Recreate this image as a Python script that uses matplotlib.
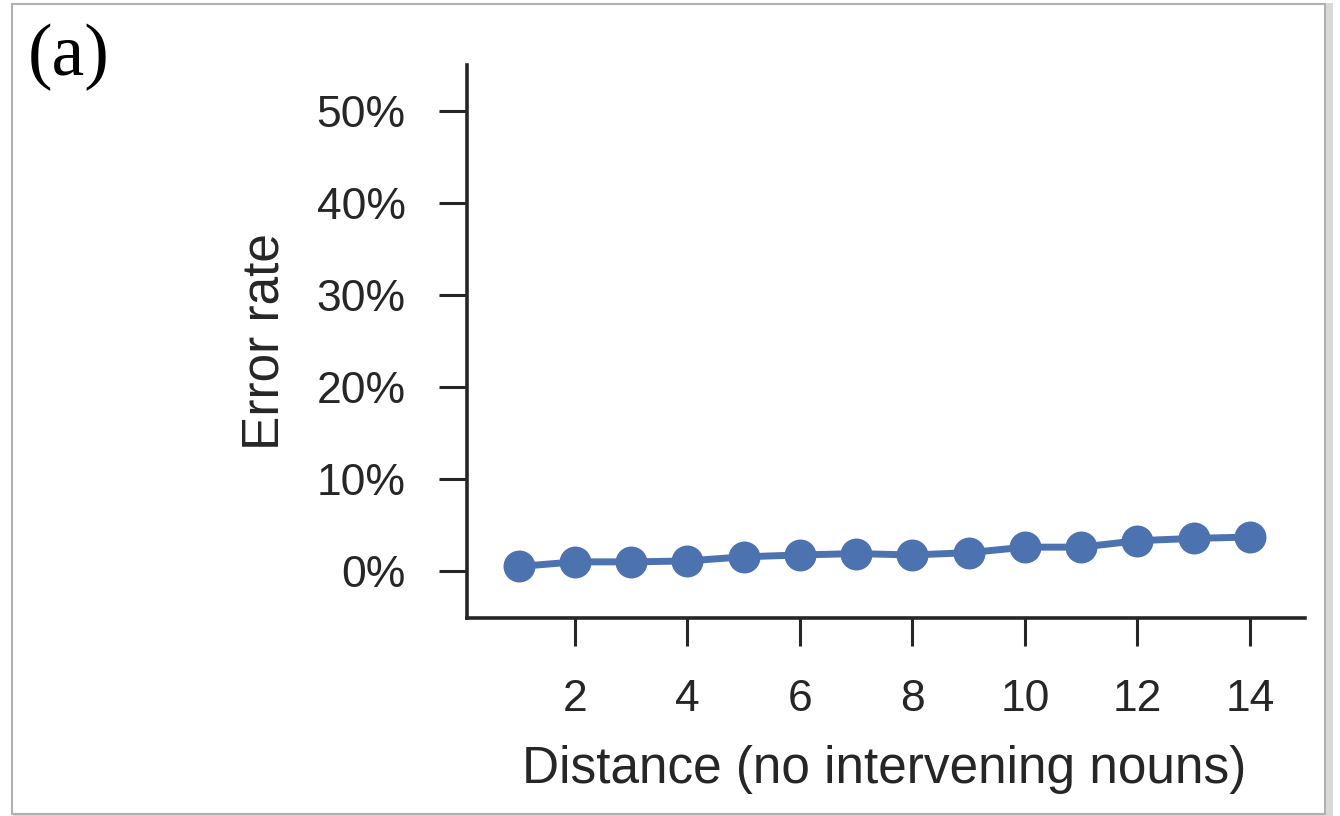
import numpy as np
import matplotlib.pyplot as plt
from matplotlib.patches import Rectangle

# values
distance = [1, 2, 3, 4, 5, 6, 7, 8, 9, 10, 11, 12, 13, 14]
error_rate = [0.5, 1.0, 1.0, 1.1, 1.55, 1.75, 1.9, 1.75, 2.0, 2.6, 2.6, 3.3, 3.55, 3.7]
x_ticks = [2, 4, 6, 8, 10, 12, 14]
y_ticks = [0, 10, 20, 30, 40, 50]

plt.rcParams['font.family'] = ['Liberation Sans', 'DejaVu Sans']
txt = '#262626'

fig = plt.figure(figsize=(13.4, 8.16), dpi=100)

# framed panel with a light shadow
fig.patches.append(Rectangle((16 / 1340, 0.0), 1313 / 1340, 810 / 816, transform=fig.transFigure,
                             facecolor='none', edgecolor='#d9d9d9', linewidth=5, zorder=-2))
fig.patches.append(Rectangle((12 / 1340, 2 / 816), 1313 / 1340, 810 / 816, transform=fig.transFigure,
                             facecolor='white', edgecolor='#b0b0b0', linewidth=1.5, zorder=-1))

ax = fig.add_axes([467 / 1340, 1 - 618 / 816, 838 / 1340, 553 / 816])
ax.set_facecolor('none')
ax.set_zorder(2)

ax.plot(distance, error_rate, color='#4c72b0', linewidth=5,
        marker='o', markersize=23, markeredgewidth=0, zorder=3)

ax.set_xlim(0.08, 14.98)
ax.set_ylim(-5.1, 55)
ax.set_xticks(x_ticks)
ax.set_yticks(y_ticks)
ax.set_yticklabels([f'{v}%' for v in y_ticks])

for s in ['top', 'right']:
    ax.spines[s].set_visible(False)
for s in ['left', 'bottom']:
    ax.spines[s].set_linewidth(2.6)
    ax.spines[s].set_color(txt)

ax.tick_params(axis='both', length=20, width=2.2, color=txt, labelsize=32,
               labelcolor=txt, pad=24)

ax.set_xlabel('Distance (no intervening nouns)', fontsize=37, color=txt)
ax.set_ylabel('Error rate', fontsize=37, color=txt)
ax.xaxis.set_label_coords((884 - 467) / 838, (618 - 769) / 553)
ax.yaxis.set_label_coords((265 - 467) / 838, (618 - 342) / 553)
ax.xaxis.label.set_va('center')
ax.yaxis.label.set_va('center')

fig.text(28 / 1340, 1 - 24 / 816, '(a)', fontsize=53, family='Liberation Serif',
         color='black', va='top', ha='left')

fig.savefig('out.png', dpi=100)
